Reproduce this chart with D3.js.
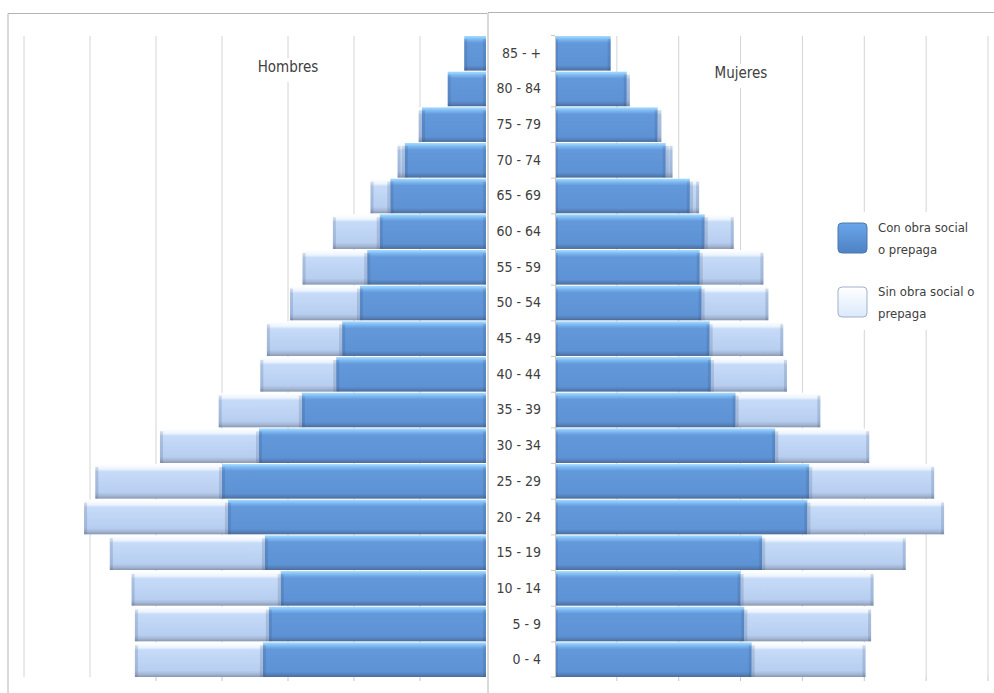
<!DOCTYPE html>
<html>
<head>
<meta charset="utf-8">
<script src="https://cdn.jsdelivr.net/npm/d3@7"></script>
<style>
	body { margin: 0; background: #fff; }
	svg { display: block; }
	text { font-family: "Liberation Sans Narrow", "DejaVu Sans Condensed", "Roboto Condensed", sans-serif; fill: #404040; }
</style>
</head>
<body>
<svg id="chart" width="994" height="693"></svg>
<script>
// Age groups, bottom to top as in the source table
const ageGroups = ["0 - 4", "5 - 9", "10 - 14", "15 - 19", "20 - 24", "25 - 29", "30 - 34", "35 - 39",
	"40 - 44", "45 - 49", "50 - 54", "55 - 59", "60 - 64", "65 - 69", "70 - 74", "75 - 79", "80 - 84", "85 - +"]

// Hombres (values in gridline units)
const menCon = [3.38, 3.29, 3.11, 3.35, 3.91, 4.00, 3.44, 2.79, 2.27, 2.18, 1.91, 1.80, 1.61, 1.45, 1.23, 0.97, 0.58, 0.33]
const menSin = [1.94, 2.03, 2.26, 2.35, 2.18, 1.92, 1.50, 1.26, 1.15, 1.14, 1.06, 0.98, 0.71, 0.30, 0.11, 0.05, 0.00, 0.00]

// Mujeres
const womenCon = [3.18, 3.06, 3.00, 3.35, 4.08, 4.11, 3.56, 2.92, 2.52, 2.50, 2.37, 2.34, 2.42, 2.18, 1.79, 1.66, 1.16, 0.90]
const womenSin = [1.84, 2.05, 2.15, 2.32, 2.21, 2.02, 1.52, 1.37, 1.23, 1.19, 1.08, 1.03, 0.47, 0.15, 0.11, 0.06, 0.05, 0.00]

const legendLabels = [["Con obra social", "o prepaga"], ["Sin obra social o", "prepaga"]]

const svg = d3.select("#chart")

// Bevelled bar fills
const defs = svg.append("defs")
function addGradient(id, stops) {
	let g = defs.append("linearGradient")
		.attr("id", id)
		.attr("x1", 0).attr("y1", 0).attr("x2", 0).attr("y2", 1)
	stops.forEach(([o, c]) => g.append("stop").attr("offset", o).attr("stop-color", c))
}
addGradient("gCon", [[0, "#a8dcff"], [0.1, "#7cb8f0"], [0.2, "#6399db"], [0.85, "#5d92d4"], [0.92, "#5782bd"], [1, "#4b6c98"]])
addGradient("gSin", [[0, "#ffffff"], [0.14, "#eef5ff"], [0.22, "#c6dbf8"], [0.82, "#b8cef0"], [0.92, "#a4b6d4"], [1, "#8797b0"]])
addGradient("gLegCon", [[0, "#6aa5ea"], [1, "#4e82c4"]])
addGradient("gLegSin", [[0, "#ffffff"], [1, "#dbe9fb"]])

const plotTop = 36, plotBottom = 677

const y = d3.scaleBand()
	.domain(ageGroups.slice().reverse())
	.range([plotTop, plotBottom])
	.paddingInner(0.03)

function drawSegments(g, data, x0, x1, fill) {
	// one stacked segment per row, with darker bevel strips on both ends
	const seg = g.selectAll(null)
		.data(data)
		.join("g")
	seg.append("rect")
		.attr("x", d => Math.min(x0(d), x1(d)))
		.attr("width", d => Math.abs(x1(d) - x0(d)))
		.attr("y", d => y(d.age))
		.attr("height", y.bandwidth())
		.attr("fill", fill)
	seg.selectAll("rect.edge")
		.data(d => [x0(d), x1(d)].map(v => ({ v, d, w: Math.min(3, Math.abs(x1(d) - x0(d)) / 2) })))
		.join("rect")
		.attr("class", "edge")
		.attr("x", e => e.v === Math.min(x0(e.d), x1(e.d)) ? e.v : e.v - e.w)
		.attr("width", e => e.w)
		.attr("y", e => y(e.d.age) + 3)
		.attr("height", y.bandwidth() - 3)
		.attr("fill", "rgba(50,70,110,0.18)")
}

function drawPanel(opts) {
	/* One half of the pyramid
	 * opts.x: linear scale from value to pixel
	 * opts.con / opts.sin: stacked series
	 */
	const g = svg.append("g")
	const x = opts.x

	// frame
	g.append("path")
		.attr("d", `M${opts.frame[0]},693 V${opts.frameTop} H${opts.frame[1]}`)
		.attr("fill", "none")
		.attr("stroke", "#b4b4b4")

	// gridlines
	g.selectAll("line.grid")
		.data(d3.range(1, 8))
		.join("line")
		.attr("class", "grid")
		.attr("x1", d => x(d)).attr("x2", d => x(d))
		.attr("y1", plotTop).attr("y2", plotBottom)
		.attr("stroke", "#d4d4d4")

	// bottom axis ticks
	g.selectAll("line.tick")
		.data(d3.range(1, 8).filter(d => x(d) > 140))
		.join("line")
		.attr("x1", d => x(d)).attr("x2", d => x(d))
		.attr("y1", plotBottom).attr("y2", plotBottom + 4)
		.attr("stroke", "#c8c8c8")

	const rows = ageGroups.map((a, i) => ({ age: a, con: opts.con[i], sin: opts.sin[i] }))

	drawSegments(g, rows.filter(d => d.sin > 0), d => x(d.con), d => x(d.con + d.sin), "url(#gSin)")
	drawSegments(g, rows, () => x(0), d => x(d.con), "url(#gCon)")

	// title with white backing over the gridline
	const tb = g.append("g").attr("transform", `translate(${opts.titlePos[0]},${opts.titlePos[1]})`)
	tb.append("rect").attr("x", -32).attr("y", -14).attr("width", 64).attr("height", 24).attr("fill", "#fff")
	tb.append("text").attr("text-anchor", "middle").attr("font-size", 15).attr("fill", "#505050").text(opts.title)
	return g
}

const xMen = d3.scaleLinear().domain([0, 7]).range([486, 24])
const xWomen = d3.scaleLinear().domain([0, 7]).range([555, 988])

drawPanel({ x: xMen, con: menCon, sin: menSin, frame: [8, 487], frameTop: 13.5, title: "Hombres", titlePos: [288, 72] })
const right = drawPanel({ x: xWomen, con: womenCon, sin: womenSin, frame: [488, 994], frameTop: 12.5, title: "Mujeres", titlePos: [741, 78] })

// category axis
const axis = right.append("g")
	.attr("transform", `translate(${xWomen(0)},0)`)
	.call(d3.axisLeft(y).tickSize(0).tickPadding(14))
axis.select(".domain").attr("stroke", "#c8c8c8")
axis.selectAll("text")
	.attr("font-size", 14)
	.attr("fill", "#454545")
	.style("font-family", null)
right.selectAll("line.catTick")
	.data(ageGroups.slice().reverse().map(a => y(a) - 0.5).concat([plotBottom]))
	.join("line")
	.attr("x1", xWomen(0) - 4).attr("x2", xWomen(0))
	.attr("y1", d => d).attr("y2", d => d)
	.attr("stroke", "#c8c8c8")

// legend
const legend = svg.append("g").attr("transform", "translate(832,212)")
legend.append("rect").attr("width", 150).attr("height", 118).attr("fill", "#fff")
const item = legend.selectAll("g.item")
	.data(legendLabels)
	.join("g")
	.attr("transform", (d, i) => `translate(6,${11 + i * 64})`)
item.append("rect")
	.attr("width", 29).attr("height", 30).attr("rx", 4)
	.attr("fill", (d, i) => i === 0 ? "url(#gLegCon)" : "url(#gLegSin)")
	.attr("stroke", (d, i) => i === 0 ? "#4d77ab" : "#9fb2cc")
item.selectAll("text")
	.data(d => d)
	.join("text")
	.attr("x", 40)
	.attr("y", (d, i) => 9 + i * 22)
	.attr("font-size", 13)
	.attr("fill", "#555")
	.text(d => d)
</script>
</body>
</html>
